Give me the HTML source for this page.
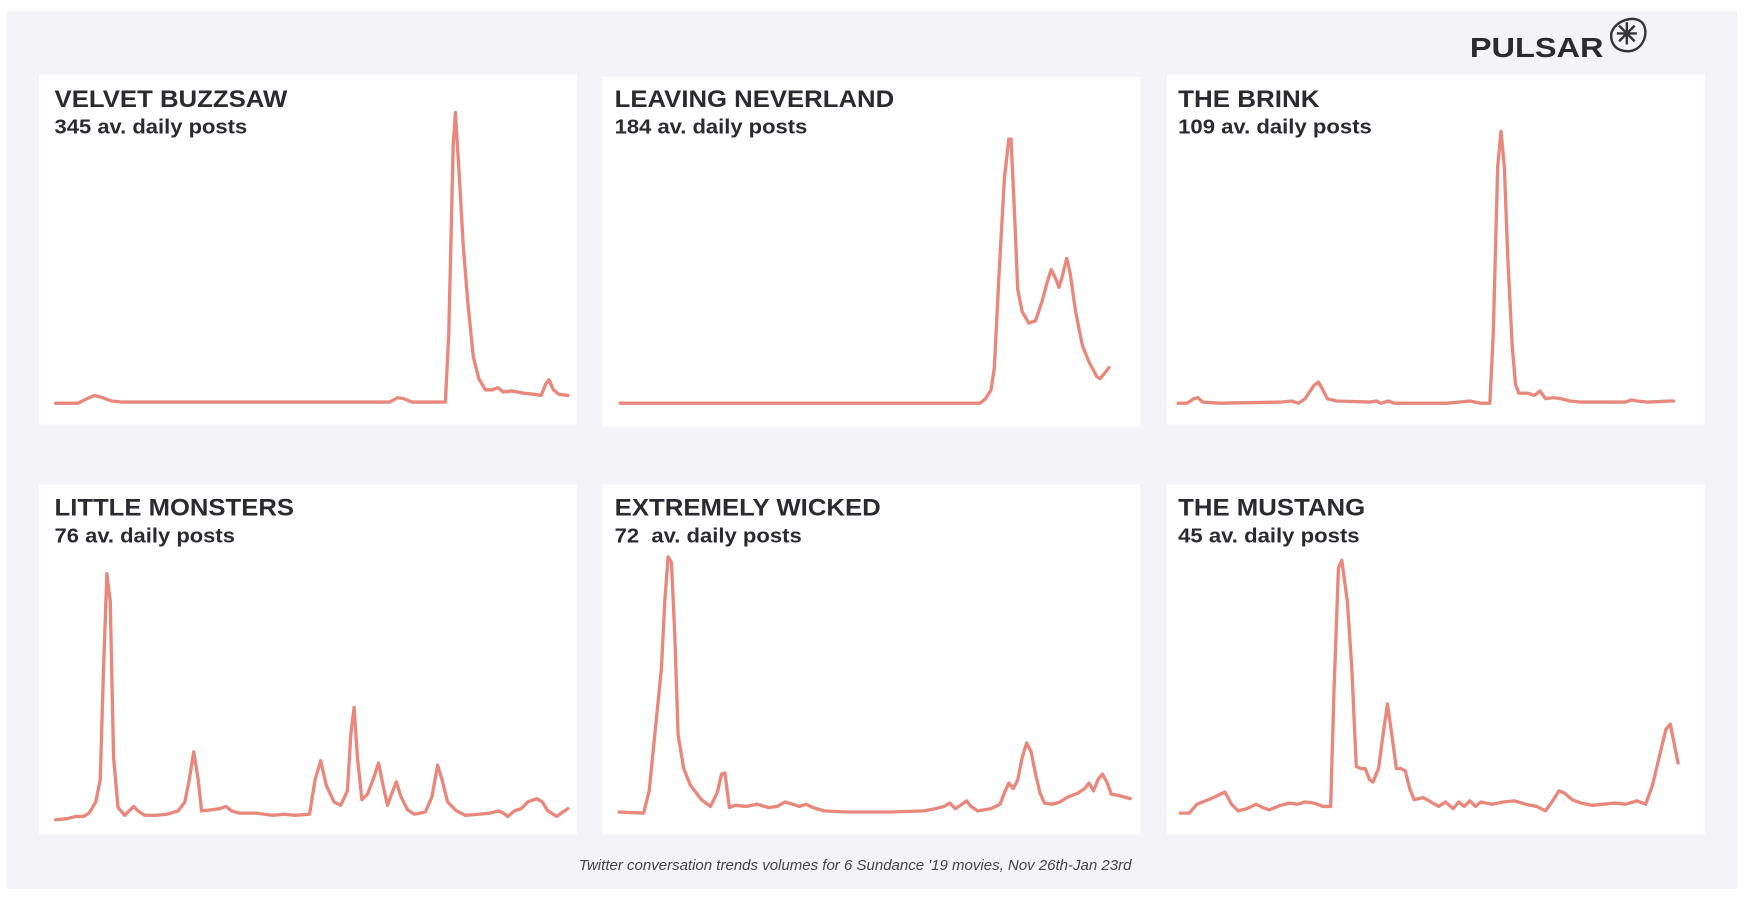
<!DOCTYPE html>
<html><head><meta charset="utf-8"><style>
html,body{margin:0;padding:0;background:#fff;width:1746px;height:900px;overflow:hidden}
svg{display:block}
.t{font-family:"Liberation Sans",Arial,sans-serif;font-weight:bold;fill:#2a2a30}
.l{fill:none;stroke:#e8887c;stroke-width:3;stroke-linejoin:round;stroke-linecap:round}
</style></head><body>
<svg width="1746" height="900" viewBox="0 0 1568 808" preserveAspectRatio="none">
<rect x="6" y="10" width="1554" height="788" fill="#f4f4f8"/>
<g fill="#fff">
<rect x="35" y="67" width="483" height="314"/>
<rect x="541" y="69" width="483" height="314"/>
<rect x="1048" y="67" width="483" height="314"/>
<rect x="35" y="435" width="483" height="314"/>
<rect x="541" y="435" width="483" height="314"/>
<rect x="1048" y="435" width="483" height="314"/>
</g>
<text class="t" x="1320" y="51" font-size="25" textLength="120" lengthAdjust="spacingAndGlyphs" fill="#34343a">PULSAR</text>
<g fill="none" stroke="#34343a" stroke-width="2.2">
<path d="M1447,30 C1450,18 1470,12 1476,22 C1481,32 1474,46 1462,46 C1452,46 1446,40 1447,30 Z"/>
<path d="M1461,20 L1461,40 M1452,30 L1470,30 M1454,23 L1468,37 M1468,23 L1454,37"/>
</g>
<g class="t" font-size="22">
<text x="49" y="96" textLength="209" lengthAdjust="spacingAndGlyphs">VELVET BUZZSAW</text>
<text x="552" y="96" textLength="251" lengthAdjust="spacingAndGlyphs">LEAVING NEVERLAND</text>
<text x="1058" y="96" textLength="127" lengthAdjust="spacingAndGlyphs">THE BRINK</text>
<text x="49" y="463" textLength="215" lengthAdjust="spacingAndGlyphs">LITTLE MONSTERS</text>
<text x="552" y="463" textLength="239" lengthAdjust="spacingAndGlyphs">EXTREMELY WICKED</text>
<text x="1058" y="463" textLength="168" lengthAdjust="spacingAndGlyphs">THE MUSTANG</text>
</g>
<g class="t" font-size="18">
<text x="49" y="120" textLength="173" lengthAdjust="spacingAndGlyphs">345 av. daily posts</text>
<text x="552" y="120" textLength="173" lengthAdjust="spacingAndGlyphs">184 av. daily posts</text>
<text x="1058" y="120" textLength="174" lengthAdjust="spacingAndGlyphs">109 av. daily posts</text>
<text x="49" y="487" textLength="162" lengthAdjust="spacingAndGlyphs">76 av. daily posts</text>
<text x="552" y="487" xml:space="preserve" textLength="168" lengthAdjust="spacingAndGlyphs">72  av. daily posts</text>
<text x="1058" y="487" textLength="163" lengthAdjust="spacingAndGlyphs">45 av. daily posts</text>
</g>
<text x="768" y="781" text-anchor="middle" font-family="Liberation Sans,Arial,sans-serif" font-style="italic" font-size="13.5" fill="#444">Twitter conversation trends volumes for 6 Sundance '19 movies, Nov 26th-Jan 23rd</text>
<polyline class="l" points="50,362 70,362 78,358 85,355 92,357 100,360 110,361 350,361 357,357 363,358 370,361 400,361 403,300 407,130 409,101 412,150 416,220 420,270 425,320 430,340 436,350 442,350 447,348 452,352 460,351 470,353 480,354 486,355 490,345 493,341 497,350 502,354 510,355"/>
<polyline class="l" points="557,362 880,362 885,358 890,350 893,330 897,250 902,160 906,125 908,125 911,190 914,260 918,280 924,290 930,288 936,270 940,255 944,242 948,250 951,258 954,248 958,232 961,245 966,280 972,310 978,325 985,338 988,340 992,335 996,330"/>
<polyline class="l" points="1058,362 1066,362 1072,358 1076,357 1080,361 1095,362 1150,361 1160,360 1166,362 1172,358 1180,346 1184,343 1188,350 1192,358 1200,360 1230,361 1236,360 1240,362 1247,360 1252,362 1300,362 1320,360 1330,362 1338,362 1341,300 1345,150 1348,118 1351,150 1354,230 1358,310 1361,345 1364,353 1372,353 1378,355 1383,351 1388,358 1395,357 1402,358 1410,360 1420,361 1460,361 1465,359 1470,360 1480,361 1500,360 1503,360"/>
<polyline class="l" points="50,736 60,735 68,733 75,733 80,730 86,720 90,700 93,600 96,515 99,540 102,680 106,725 112,732 116,728 120,724 124,728 130,732 140,732 150,731 160,728 166,720 170,700 174,675 178,700 181,728 190,727 197,726 203,724 208,728 215,730 230,730 245,732 255,731 265,732 278,731 283,700 288,683 293,705 300,720 306,723 312,710 315,660 318,635 321,680 325,718 330,713 335,700 340,685 344,705 348,723 352,712 356,702 360,715 366,727 372,731 382,729 388,715 393,687 397,700 402,720 410,728 418,732 430,731 440,730 448,728 452,730 456,733 462,728 468,726 474,720 482,717 487,720 492,728 500,733 504,730 510,726"/>
<polyline class="l" points="556,729 578,730 583,710 590,640 594,600 597,540 600,500 603,505 606,570 609,660 614,690 620,705 630,718 638,724 644,712 648,695 651,694 655,725 660,723 670,724 680,722 690,725 698,724 705,720 712,722 718,724 724,722 730,725 740,728 760,729 800,729 830,728 840,726 848,724 853,721 858,726 864,722 868,719 872,724 878,728 890,726 898,722 902,712 906,703 910,708 914,700 918,680 922,667 926,675 930,695 934,712 938,721 945,722 952,720 958,716 963,714 968,712 974,708 978,703 982,710 986,700 990,695 994,702 998,713 1004,714 1015,717"/>
<polyline class="l" points="1060,730 1068,730 1075,722 1085,718 1092,715 1100,711 1106,722 1112,728 1120,726 1128,722 1134,725 1140,727 1150,723 1158,721 1165,722 1172,720 1180,721 1188,724 1195,724 1198,620 1202,510 1205,503 1210,540 1214,600 1218,688 1222,690 1226,690 1230,700 1233,702 1238,690 1242,660 1246,632 1250,660 1254,690 1258,690 1262,692 1266,708 1270,718 1278,716 1285,720 1292,724 1298,720 1305,726 1310,720 1315,724 1320,719 1325,724 1330,720 1340,722 1350,720 1360,719 1370,722 1380,724 1388,728 1395,718 1400,710 1405,712 1412,718 1420,721 1430,723 1440,722 1450,721 1460,722 1470,719 1478,722 1484,705 1490,680 1496,655 1500,650 1504,670 1507,685"/>
</svg>
</body></html>
